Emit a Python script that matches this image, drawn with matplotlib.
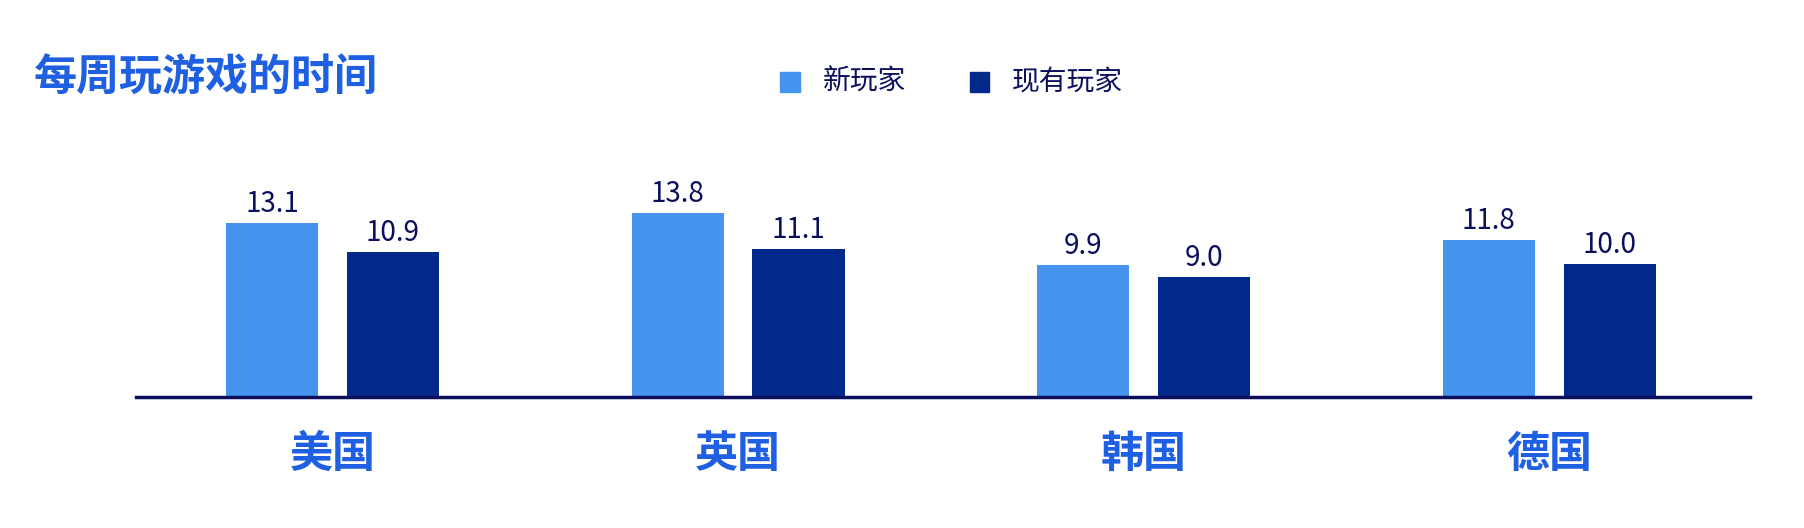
import numpy as np
import matplotlib
matplotlib.use("Agg")
import matplotlib.pyplot as plt
from matplotlib.patches import Rectangle

plt.rcParams['font.family'] = ['Noto Sans CJK SC', 'DejaVu Sans']

# data
countries = ['美国', '英国', '韩国', '德国']
new_players = [13.1, 13.8, 9.9, 11.8]
existing_players = [10.9, 11.1, 9.0, 10.0]
series_names = ['新玩家', '现有玩家']

light_blue = '#4594ee'
dark_blue = '#03288c'
navy = '#0b0f5c'
title_blue = '#1f5fe2'

fig = plt.figure(figsize=(18.04, 5.28), dpi=100)
ax = fig.add_axes([0.0753, 0.248, 0.8947, 0.378])

x = np.arange(len(countries))
w = 0.227
off = 0.149
b1 = ax.bar(x - off, new_players, w, color=light_blue)
b2 = ax.bar(x + off, existing_players, w, color=dark_blue)

for bars in (b1, b2):
    ax.bar_label(bars, fmt='%.1f', padding=3, fontsize=20, color=navy)

ax.set_xlim(-0.485, 3.495)
ax.set_ylim(0, 15)
ax.set_yticks([])
for s in ['top', 'right', 'left']:
    ax.spines[s].set_visible(False)
ax.spines['bottom'].set_color(navy)
ax.spines['bottom'].set_linewidth(2.5)
ax.set_xticks(x)
ax.set_xticklabels(countries, fontsize=31, fontweight='bold', color=title_blue)
ax.tick_params(axis='x', length=0, pad=25)

# title
fig.text(0.019, 0.852, '每周玩游戏的时间', fontsize=31, fontweight='bold',
         color=title_blue, va='center', ha='left')

# legend
sq = 19.6
for cx, tx, col, name in [(790, 822.6, light_blue, series_names[0]),
                          (979.6, 1012, dark_blue, series_names[1])]:
    fig.add_artist(Rectangle(((cx - sq / 2) / 1804, 0.845 - sq / 2 / 528),
                             sq / 1804, sq / 528, color=col,
                             transform=fig.transFigure))
    fig.text(tx / 1804, 0.845, name, fontsize=20, color=navy,
             va='center', ha='left')

fig.savefig('out.png', dpi=100)
